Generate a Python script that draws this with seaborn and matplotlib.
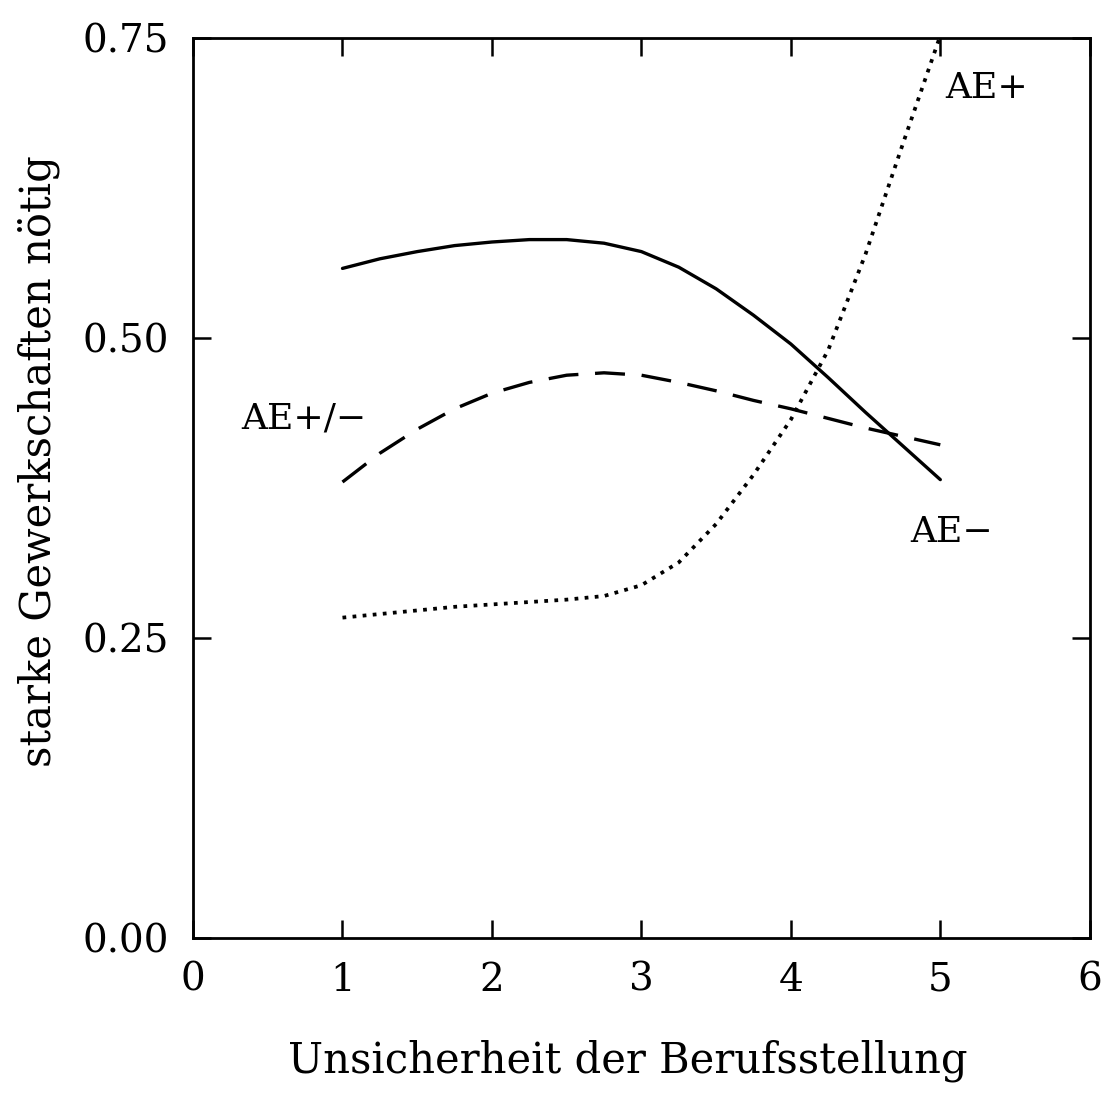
import numpy as np
import pandas as pd
import matplotlib
matplotlib.use("Agg")
import matplotlib.pyplot as plt
import seaborn as sns

# values (x = Unsicherheit der Berufsstellung)
x_vals = [1, 1.25, 1.5, 1.75, 2, 2.25, 2.5, 2.75, 3,
          3.25, 3.5, 3.75, 4, 4.25, 4.5, 4.75, 5]
ae_minus = [0.558, 0.566, 0.572, 0.577, 0.580, 0.582, 0.582, 0.579, 0.572,
            0.559, 0.541, 0.519, 0.495, 0.467, 0.438, 0.410, 0.382]
ae_mixed = [0.380, 0.404, 0.424, 0.441, 0.454, 0.463, 0.469, 0.471, 0.469,
            0.463, 0.456, 0.448, 0.441, 0.433, 0.425, 0.418, 0.411]
ae_plus = [0.267, 0.270, 0.273, 0.276, 0.278, 0.280, 0.282, 0.285, 0.294,
           0.313, 0.345, 0.386, 0.432, 0.490, 0.570, 0.662, 0.752]

x_ticks = [0, 1, 2, 3, 4, 5, 6]
y_ticks = [0.00, 0.25, 0.50, 0.75]
y_ticklabels = ["0.00", "0.25", "0.50", "0.75"]

sns.set_style("ticks")
plt.rcParams['font.family'] = ['DejaVu Serif']
plt.rcParams['text.color'] = 'black'
plt.rcParams['axes.labelcolor'] = 'black'
plt.rcParams['xtick.color'] = 'black'
plt.rcParams['ytick.color'] = 'black'
plt.rcParams['axes.edgecolor'] = 'black'
plt.rcParams['lines.solid_capstyle'] = 'round'


def draw_curve(ax, y, lw, style):
    df = pd.DataFrame({'x': x_vals, 'y': y})
    sns.lineplot(data=df, x='x', y='y', ax=ax, color='black',
                 linewidth=lw, clip_on=False, **style)


fig = plt.figure(figsize=(11.12, 11.01), dpi=100)
ax = fig.add_axes([0.1736, 0.148, 0.8064, 0.8175])

draw_curve(ax, ae_minus, 2.4, {'linestyle': '-'})
draw_curve(ax, ae_mixed, 2.4, {'dashes': (9, 5)})
draw_curve(ax, ae_plus, 2.7, {'dashes': (1, 1.7)})

ax.set_xlim(0, 6)
ax.set_ylim(0, 0.75)
ax.set_xticks(x_ticks)
ax.set_yticks(y_ticks)
ax.set_yticklabels(y_ticklabels)

ax.tick_params(direction='in', length=13, width=1.8, labelsize=28,
               top=True, right=True)
ax.tick_params(axis='x', pad=17)
ax.tick_params(axis='y', pad=17)
for s in ax.spines.values():
    s.set_linewidth(2.0)

ax.set_xlabel('Unsicherheit der Berufsstellung', fontsize=30)
ax.set_ylabel('starke Gewerkschaften nötig', fontsize=30)
ax.xaxis.set_label_coords(0.485, -0.113)
ax.yaxis.set_label_coords(-0.148, 0.53)

ax.text(5.03, 0.70, 'AE+', fontsize=26)
ax.text(0.32, 0.425, 'AE+/−', fontsize=26)
ax.text(4.8, 0.33, 'AE−', fontsize=26)

fig.savefig('out.png', dpi=100)
